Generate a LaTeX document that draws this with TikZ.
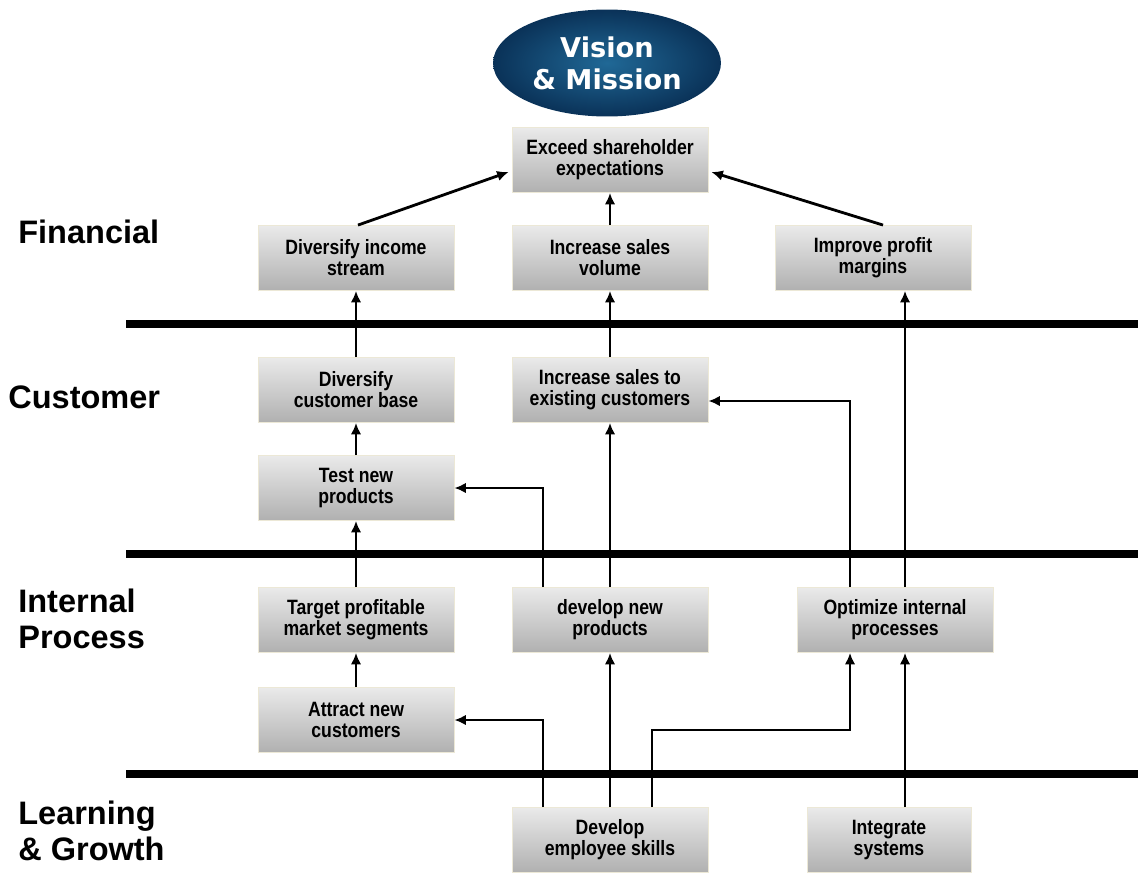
\documentclass[tikz,border=0pt]{standalone}
\usepackage{fontspec}
\setmainfont{Liberation Sans}
\newfontfamily\boxfont[FakeStretch=0.85]{Liberation Sans}
\newfontfamily\visfont{DejaVu Sans}
\usetikzlibrary{shapes.geometric,arrows.meta,calc}
\definecolor{boxtop}{RGB}{234,234,234}
\definecolor{boxbot}{RGB}{176,176,176}
\definecolor{boxedge}{RGB}{236,232,214}
\definecolor{ellin}{RGB}{32,104,150}
\definecolor{ellout}{RGB}{10,50,88}
\tikzset{
  box/.style={draw=boxedge, line width=0.5pt, top color=boxtop, bottom color=boxbot,
    minimum width=3.92cm, minimum height=1.3cm, inner sep=0pt, align=center,
    font=\boxfont\bfseries\fontsize{11.8}{12}\selectfont},
  arr/.style={line width=1.6pt, -{Latex[length=6.5pt,width=6pt]}},
  band/.style={line width=5pt},
  lab/.style={anchor=west, align=left, inner sep=0pt,
    font=\bfseries\fontsize{18.5}{20.5}\selectfont},
  vis/.style={ellipse, minimum width=4.56cm, minimum height=2.14cm, inner sep=0pt,
    inner color=ellin, outer color=ellout, text=white, align=center,
    font=\visfont\bfseries\fontsize{15.5}{18.2}\selectfont}
}
\begin{document}
\begin{tikzpicture}[x=0.02cm,y=-0.02cm]
\useasboundingbox (0,0) rectangle (1138,872);
% perspective separators
\draw[band] (126,324) -- (1138,324);
\draw[band] (126,554) -- (1138,554);
\draw[band] (126,774) -- (1138,774);
% labels
\node[lab] (lfin) at (18,232) {Financial};
\node[lab] (lcus) at (8,397) {Customer};
\node[lab] (lint) at (18,619) {Internal\\Process};
\node[lab] (llea) at (18,831) {Learning\\\& Growth};
% vision
\node[vis] (vm) at (607,63) {Vision\\\& Mission};
% boxes
\node[box] (exceed) at (610,160) {Exceed shareholder\\expectations};
\node[box] (dii) at (356,258) {Diversify income\\stream};
\node[box] (isv) at (610,258) {Increase sales\\volume};
\node[box] (ipm) at (873,258) {Improve profit\\margins};
\node[box] (dcb) at (356,390) {Diversify\\customer base};
\node[box] (ise) at (610,390) {Increase sales to\\existing customers};
\node[box] (tnp) at (356,488) {Test new\\products};
\node[box] (tpm) at (356,620) {Target profitable\\market segments};
\node[box] (dnp) at (610,620) {develop new\\products};
\node[box] (oip) at (895,620) {Optimize internal\\processes};
\node[box] (anc) at (356,720) {Attract new\\customers};
\node[box] (des) at (610,840) {Develop\\employee skills};
\node[box, minimum width=3.28cm] (ins) at (889,840) {Integrate\\systems};
\coordinate (xr) at (905,0);
\coordinate (xl) at (850,0);
% connectors
\draw[arr] ($(dii.north)+(2,0)$) -- ($(exceed.west)+(-3,12)$);
\draw[arr] (isv.north) -- (exceed.south);
\draw[arr] ($(ipm.north)+(10,0)$) -- ($(exceed.east)+(3,12)$);
\draw[arr] (dcb.north) -- (dii.south);
\draw[arr] (ise.north) -- (isv.south);
\draw[arr] (tnp.north) -- (dcb.south);
\draw[arr] (tpm.north) -- (tnp.south);
\draw[arr] (anc.north) -- (tpm.south);
\draw[arr] (dnp.north) -- (ise.south);
\draw[arr] (des.north) -- (dnp.south);
\draw[arr] ($(dnp.north)+(-67,0)$) |- (tnp.east);
\draw[arr] ($(des.north)+(-67,0)$) |- (anc.east);
\draw[arr] ($(des.north)+(42,0)$) -- ++(0,-77) -| (oip.south -| xl);
\draw[arr] (oip.north -| xl) |- ($(ise.east)+(0,11)$);
\draw[arr] (ins.north -| xr) -- (oip.south -| xr);
\draw[arr] (oip.north -| xr) -- (ipm.south -| xr);
\end{tikzpicture}
\end{document}
